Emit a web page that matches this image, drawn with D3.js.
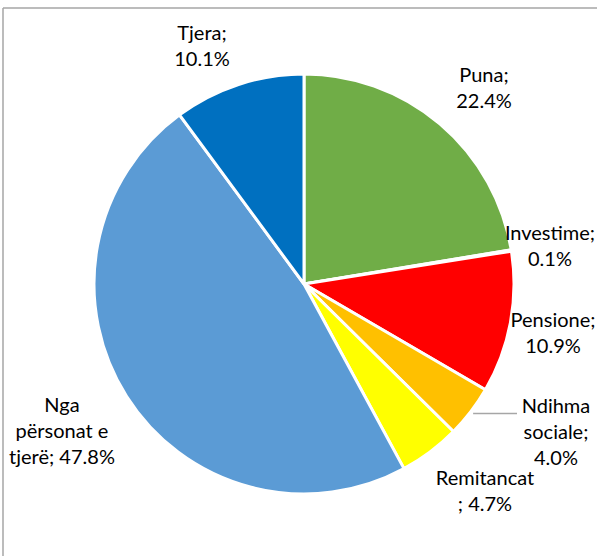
<!DOCTYPE html>
<html><head><meta charset="utf-8">
<script src="https://cdn.jsdelivr.net/npm/d3@7"></script>
<style>html,body{margin:0;padding:0;background:#fff;}svg{display:block;}</style>
</head><body>
<svg id="chart" width="597" height="556"></svg>
<script>
const categories = ["Puna", "Investime", "Pensione", "Ndihma sociale", "Remitancat", "Nga përsonat e tjerë", "Tjera"];
const values = [22.4, 0.1, 10.9, 4.0, 4.7, 47.8, 10.1];
const colors = ["#70AD47", "#FFFFFF", "#FF0000", "#FFC000", "#FFFF00", "#5B9BD5", "#0070C0"];
const labelLines = [
  ["Puna;", "22.4%"],
  ["Investime;", "0.1%"],
  ["Pensione;", "10.9%"],
  ["Ndihma", "sociale;", "4.0%"],
  ["Remitancat", "; 4.7%"],
  ["Nga", "përsonat e", "tjerë; 47.8%"],
  ["Tjera;", "10.1%"]
];
// label layout (first-line baseline)
const labelLayout = [
  {x: 484, y: 82}, {x: 550, y: 240}, {x: 553, y: 327},
  {x: 556, y: 413}, {x: 485, y: 485}, {x: 62, y: 412}, {x: 202, y: 40}
];

const svg = d3.select("#chart");
const W = 597, H = 556;
// frame
svg.append("line").attr("x1", 3).attr("y1", 8).attr("x2", W).attr("y2", 8)
  .attr("stroke", "#a6a6a6").attr("stroke-width", 1.5);
svg.append("line").attr("x1", 3).attr("y1", 8).attr("x2", 3).attr("y2", H)
  .attr("stroke", "#a6a6a6").attr("stroke-width", 1.5);

const cx = 304, cy = 284, r = 210;
const pie = d3.pie().sort(null).value(d => d);
const arcs = pie(values);
const arc = d3.arc().innerRadius(0).outerRadius(r);
const g = svg.append("g").attr("transform", `translate(${cx},${cy})`);
g.selectAll("path").data(arcs).enter().append("path")
  .attr("d", arc)
  .attr("fill", (d, i) => colors[i])
  .attr("stroke", "#fff").attr("stroke-width", 3).attr("stroke-linejoin", "round");

// leader line for Ndihma sociale
const nd = arcs[3];
const ndOuter = d3.arc().innerRadius(r + 3).outerRadius(r + 3).centroid(nd);
svg.append("polyline")
  .attr("points", [[cx + ndOuter[0], cy + ndOuter[1]], [517, cy + ndOuter[1]]].map(p => p.join(",")).join(" "))
  .attr("fill", "none").attr("stroke", "#a6a6a6").attr("stroke-width", 1.5);

const lh = 26;
labelLines.forEach((lines, i) => {
  const t = svg.append("text")
    .attr("text-anchor", "middle")
    .attr("font-family", "Lato, 'Open Sans', sans-serif")
    .attr("font-size", 20)
    .attr("fill", "#000");
  lines.forEach((s, j) => {
    t.append("tspan").attr("x", labelLayout[i].x).attr("y", labelLayout[i].y + j * lh).text(s);
  });
});
</script>
</body></html>
